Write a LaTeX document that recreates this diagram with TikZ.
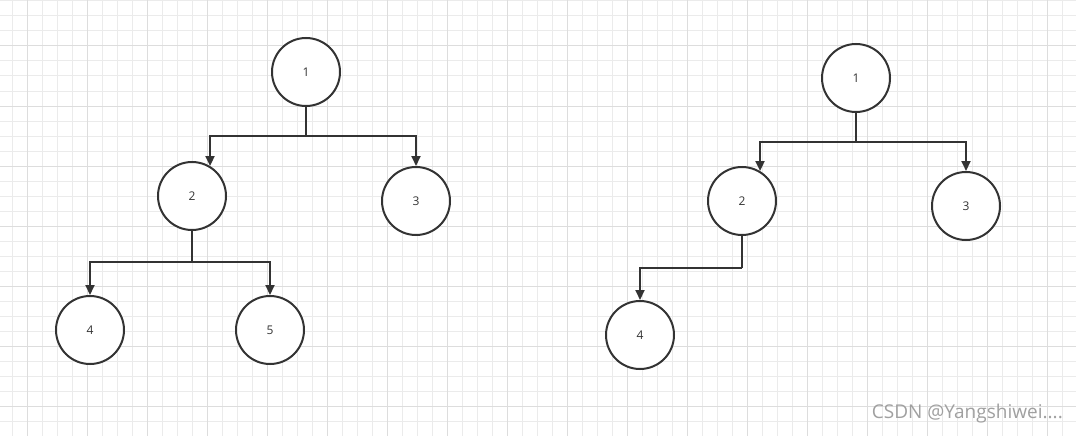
\documentclass[tikz,border=0pt]{standalone}
\usepackage{fontspec}
\setmainfont{Open Sans}
\usetikzlibrary{arrows.meta}
\definecolor{minorgrid}{HTML}{EBEBEB}
\definecolor{majorgrid}{HTML}{DDDDDD}
\definecolor{ink}{HTML}{333333}
\definecolor{wm}{HTML}{A0A0A0}
\tikzset{
  treenode/.style={circle, draw=ink, line width=2pt, fill=white, minimum size=68pt, inner sep=0pt, text=ink, font=\fontsize{12}{14}\selectfont},
  edge/.style={draw=ink, line width=2pt},
  arr/.style={edge, -{Triangle[length=10pt,width=9pt]}},
}
\begin{document}
\begin{tikzpicture}[x=1pt,y=-1pt]
\useasboundingbox (0,0) rectangle (1076,436);
\fill[white] (0,0) rectangle (1076,436);
% grid
\foreach \gx in {12,27,...,1076} \draw[minorgrid, line width=1pt] (\gx,0) -- (\gx,436);
\foreach \gy in {1,16,...,436} \draw[minorgrid, line width=1pt] (0,\gy) -- (1076,\gy);
\foreach \gx in {27,87,...,1076} \draw[majorgrid, line width=1pt] (\gx,0) -- (\gx,436);
\foreach \gy in {46,106,...,436} \draw[majorgrid, line width=1pt] (0,\gy) -- (1076,\gy);
% left tree
\node[treenode] (L1) at (306,72) {1};
\node[treenode] (L2) at (192,196) {2};
\node[treenode] (L3) at (416,201) {3};
\node[treenode] (L4) at (90,330) {4};
\node[treenode] (L5) at (270,330) {5};
\coordinate (LJ1) at (306,136);
\coordinate (LJ2) at (192,262);
\draw[edge] (L1.south) -- (LJ1);
\draw[arr] (LJ1) -| (L2.59);
\draw[arr] (LJ1) -| (L3.north);
\draw[edge] (L2.south) -- (LJ2);
\draw[arr] (LJ2) -| (L4.north);
\draw[arr] (LJ2) -| (L5.north);
% right tree
\node[treenode] (R1) at (856,78) {1};
\node[treenode] (R2) at (742,201) {2};
\node[treenode] (R3) at (966,206) {3};
\node[treenode] (R4) at (640,335) {4};
\coordinate (RJ1) at (856,142);
\coordinate (RJ2) at (742,268);
\draw[edge] (R1.south) -- (RJ1);
\draw[arr] (RJ1) -| (R2.59);
\draw[arr] (RJ1) -| (R3.north);
\draw[edge] (R2.south) -- (RJ2);
\draw[arr] (RJ2) -| (R4.north);
% watermark
\node[anchor=east, text=wm, inner sep=0pt, font=\fontsize{19}{22}\selectfont] (wmark) at (1063,414) {CSDN @Yangshiwei....};
\end{tikzpicture}
\end{document}
